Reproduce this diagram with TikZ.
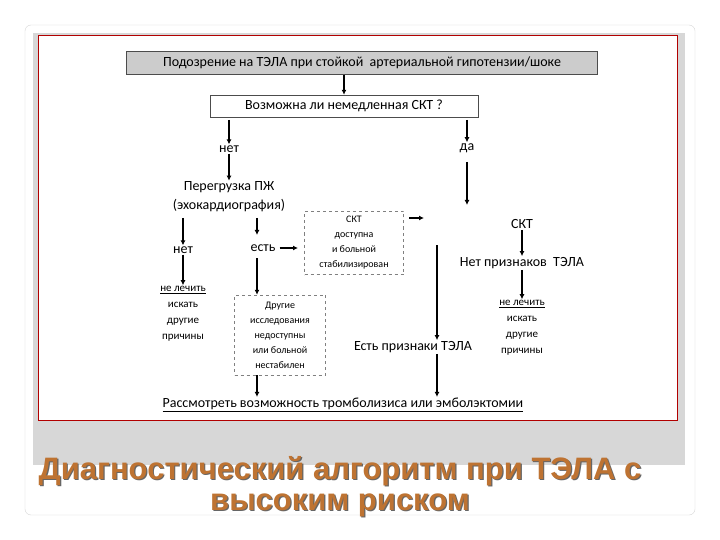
\documentclass[tikz,border=0pt]{standalone}
\usepackage{fontspec}
\setmainfont{Carlito}
\newfontfamily\titlefont{Liberation Sans}
\usetikzlibrary{arrows.meta}
\definecolor{titlec}{RGB}{190,115,50}
\definecolor{frameg}{RGB}{215,215,215}
\begin{document}
\begin{tikzpicture}[x=1pt,y=-1pt,
  arr/.style={-{Latex[length=5pt,width=5pt]},line width=1.6pt},
  txt/.style={font=\fontsize{14}{19}\selectfont,inner sep=1pt},
  small/.style={font=\fontsize{10}{15}\selectfont,align=center,inner sep=1pt},
  dbox/.style={draw=gray,dashed,minimum width=99pt,minimum height=63pt},
  tbox/.style={draw=black!70,font=\fontsize{14}{16}\selectfont}]
\useasboundingbox (0,0) rectangle (720,540);
\fill[white] (0,0) rectangle (720,540);
\draw[frameg,rounded corners=6pt] (25,25) rectangle (695,515);
\fill[frameg] (33,33) rectangle (685,465);
\draw[red!70!black,fill=white] (38,35) rectangle (677,420);
% title
\foreach \dx/\c in {1.2/black!60,0/titlec}{
 \node[font=\titlefont\bfseries\fontsize{31}{34}\selectfont,text=\c] at (340+\dx,471+\dx) {Диагностический алгоритм при ТЭЛА с};
 \node[font=\titlefont\bfseries\fontsize{31}{34}\selectfont,text=\c] at (340+\dx,505+\dx) {высоким риском};}
% boxes
\node[tbox,fill=gray!40,minimum width=471pt,minimum height=23pt] (b1) at (362,63) {Подозрение на ТЭЛА при стойкой\ \ артериальной гипотензии/шоке};
\node[tbox,fill=white,minimum width=268pt,minimum height=22pt] (b2) at (344,106) {Возможна ли немедленная СКТ ?};
\node[small,dbox] (d1) at (354,243) {СКТ\\доступна\\и больной\\стабилизирован};
\node[small,dbox,minimum width=91pt,minimum height=80pt] (d2) at (280,335) {Другие\\исследования\\недоступны\\или больной\\нестабилен};
\node[txt] (no1) at (229,149) {нет};
\node[txt] (yes1) at (467,148) {да};
\node[txt,align=center] (pz) at (229,197) {Перегрузка ПЖ\\(эхокардиография)};
\node[txt] (no2) at (183,250) {нет};
\node[txt] (est) at (263,248) {есть};
\node[small,font=\fontsize{11}{16}\selectfont] (l1) at (183,314) {\underline{не лечить}\\искать\\другие\\причины};
\node[txt] (skt) at (522,224) {СКТ};
\node[txt] (npr) at (522,263) {Нет признаков\ \ ТЭЛА};
\node[small,font=\fontsize{11}{16}\selectfont] (l2) at (522,328) {\underline{не лечить}\\искать\\другие\\причины};
\node[txt] (epr) at (413,347) {Есть признаки ТЭЛА};
\node[txt] (fin) at (343,405) {\underline{Рассмотреть возможность тромболизиса или эмболэктомии}};
% arrows
\draw[arr] (b1.south -| b2.north) -- (b2.north);
\draw[arr] (229,120) -- (no1.north);
\draw[arr] (no1.south) -- (pz.north);
\draw[arr] (467,120) -- (yes1.north);
\draw[arr] (467,162) -- (467,205);
\draw[arr] (183,218) -- (no2.north);
\draw[arr] (257,218) -- (257,235);
\draw[arr] (est.east)+(3,0) -- (298,248);
\draw[arr] (409,218) -- (424,218);
\draw[arr] (skt.south) -- (npr.north);
\draw[arr] (npr.south) -- (l2.north);
\draw[arr] (no2.south) -- (l1.north);
\draw[arr] (257,258) -- (d2.north -| 257,0);
\draw[arr] (437,245) -- (epr.north -| 437,0);
\draw[arr] (epr.south -| 437,0) -- (fin.north -| 437,0);
\draw[arr] (d2.south -| 257,0) -- (fin.north -| 257,0);
\end{tikzpicture}
\end{document}
